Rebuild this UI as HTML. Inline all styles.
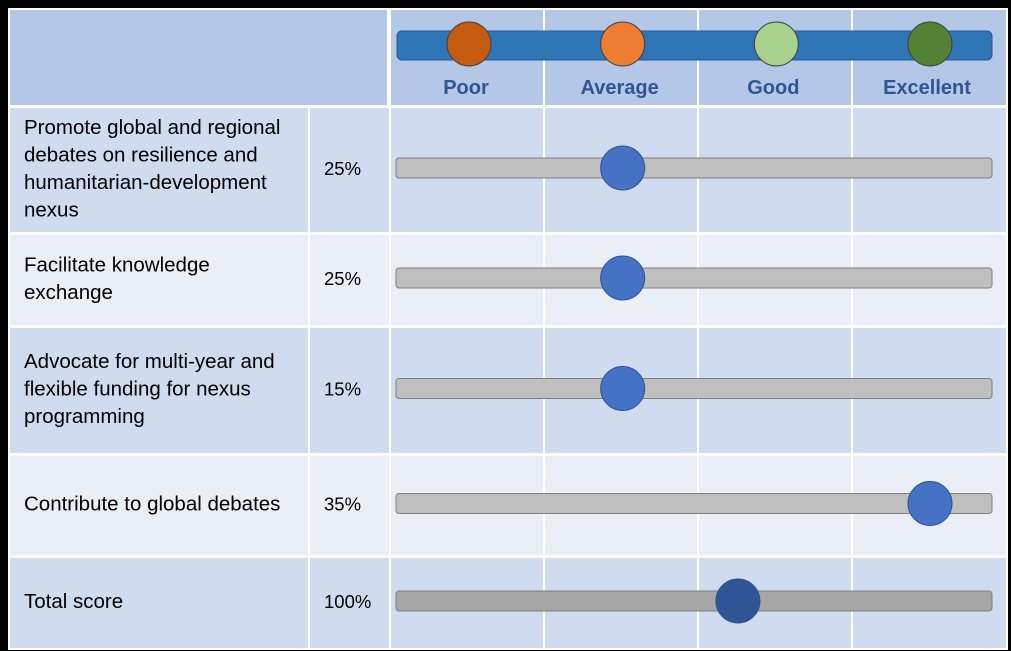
<!DOCTYPE html>
<html><head><meta charset="utf-8"><style>
body{margin:0;background:#000;width:1011px;height:651px;overflow:hidden}
svg{display:block;font-family:"Liberation Sans",sans-serif}
</style></head><body>
<svg id="c" width="1011" height="651"></svg>
<script>
const categories=["Promote global and regional|debates on resilience and|humanitarian-development|nexus","Facilitate knowledge|exchange","Advocate for multi-year and|flexible funding for nexus|programming","Contribute to global debates","Total score"];
const weights=["25%","25%","15%","35%","100%"];
const scores=[2,2,2,4,2.75];
const levels=["Poor","Average","Good","Excellent"];
const levelColors=["#c55a11","#ed7d31","#a9d18e","#548235"];
const NS="http://www.w3.org/2000/svg";
const svg=document.getElementById('c');
function mk(t,a,p){const e=document.createElementNS(NS,t);for(const k in a)e.setAttribute(k,a[k]);(p||svg).appendChild(e);return e;}
function xs(v){return 469+(v-1)*(930-469)/3;}
const rows=[[108,232],[235,325],[328,453],[456,555],[558,648]];
const cols=[10,308,389,543,697,851,1006];
const bg=mk('rect',{x:8,y:8,width:1000,height:642,fill:'#ffffff'});

let h=mk('rect',{x:10,y:10,width:377,height:95,fill:'#b4c7e7'});

for(let i=0;i<4;i++){const r=mk('rect',{x:cols[i+2]+2,y:10,width:cols[i+3]-cols[i+2]-2,height:95,fill:'#b4c7e7'});
}
const hb=mk('rect',{x:397,y:31,width:595,height:29,rx:5,fill:'#2e75b6',stroke:'#2f5597','stroke-width':1});

levels.forEach((l,i)=>{
 const c=mk('circle',{cx:xs(i+1),cy:44,r:22,fill:levelColors[i],stroke:'#404040','stroke-width':1});
 
 const t=mk('text',{x:xs(i+1)-3,y:94,'text-anchor':'middle','font-size':20,'font-weight':'bold',fill:'#2f5597'});
 t.textContent=l;
});
categories.forEach((cat,ri)=>{
 const [y0,y1]=rows[ri];const fill=ri%2==0?'#cfdbee':'#e9eef7';const cy=(y0+y1)/2-2;
 for(let ci=0;ci<6;ci++){const r=mk('rect',{x:cols[ci]+(ci?2:0),y:y0,width:cols[ci+1]-cols[ci]-(ci?2:0),height:y1-y0,fill:fill});
  }
 const lines=cat.split('|');
 const t=mk('text',{x:24,'font-size':20.5,fill:'#000'});
 lines.forEach((ln,k)=>{const s=mk('tspan',{x:24,y:cy+7+(k-(lines.length-1)/2)*27.5},t);s.textContent=ln;});
 const w=mk('text',{x:324,y:cy+7,'font-size':18.5,fill:'#000'});w.textContent=weights[ri];
 
 const total=ri==4;
 const tr=mk('rect',{x:396,y:cy-10,width:596,height:20,rx:3,fill:total?'#a6a6a6':'#bfbfbf',stroke:'#7f7f7f','stroke-width':1});
 
 const d=mk('circle',{cx:xs(scores[ri]),cy:cy,r:22,fill:total?'#2f5597':'#4472c4',stroke:'#2f528f','stroke-width':1});
 
});
</script>
</body></html>
